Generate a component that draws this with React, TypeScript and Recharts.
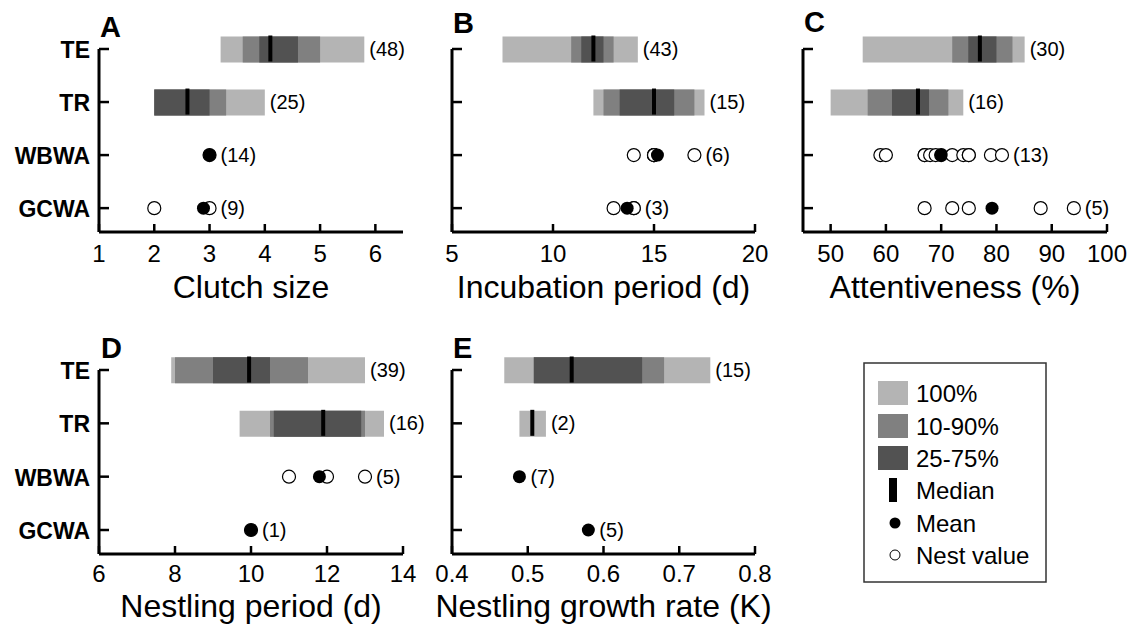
import React from 'react';
import { ComposedChart, Bar, Scatter, XAxis, YAxis } from 'recharts';

// rows from top (0) to bottom (3)
const rowNames = ['TE', 'TR', 'WBWA', 'GCWA'];
const rowTicks = [0, 1, 2, 3];

const LIGHT = '#b4b4b4';
const MID = '#808080';
const DARK = '#525252';

// A - clutch size (bars: TE, TR; points: WBWA, GCWA)
const clutchTicks = [1, 2, 3, 4, 5, 6];
const clutchFull = [[3.2, 5.8], [2.0, 4.0]];
const clutchP10 = [[3.6, 5.0], [2.0, 3.3]];
const clutchP25 = [[3.9, 4.6], [2.0, 3.0]];
const clutchMedian = [4.1, 2.6];
const clutchMean = [3.0, 2.89];
const clutchNests = [[3], [2, 3]];
const clutchN = [48, 25, 14, 9];

// B - incubation period
const incubTicks = [5, 10, 15, 20];
const incubFull = [[7.5, 14.2], [12.0, 17.5]];
const incubP10 = [[10.9, 13.0], [12.5, 17.0]];
const incubP25 = [[11.4, 12.5], [13.3, 16.0]];
const incubMedian = [12.0, 15.0];
const incubMean = [15.17, 13.67];
const incubNests = [[14, 15, 15, 15, 15, 17], [13, 14, 14]];
const incubN = [43, 15, 6, 3];

// C - attentiveness
const attTicks = [50, 60, 70, 80, 90, 100];
const attFull = [[55.8, 85.1], [50.0, 74.0]];
const attP10 = [[72.0, 82.9], [56.7, 71.3]];
const attP25 = [[74.9, 80.0], [61.1, 67.8]];
const attMedian = [77.0, 65.8];
const attMean = [70.0, 79.2];
const attNests = [
  [59, 60, 67, 67, 68, 69, 70, 72, 74, 75, 75, 79, 81],
  [67, 72, 75, 88, 94],
];
const attN = [30, 16, 13, 5];

// D - nestling period
const nestlTicks = [6, 8, 10, 12, 14];
const nestlFull = [[7.9, 13.0], [9.7, 13.5]];
const nestlP10 = [[8.0, 11.5], [10.5, 13.0]];
const nestlP25 = [[9.0, 10.5], [10.6, 12.9]];
const nestlMedian = [9.95, 11.9];
const nestlMean = [11.8, 10.0];
const nestlNests = [[11, 12, 13], [10]];
const nestlN = [39, 16, 5, 1];

// E - nestling growth rate
const growthTicks = [0.4, 0.5, 0.6, 0.7, 0.8];
const growthFull = [[0.469, 0.741], [0.489, 0.524]];
const growthP10 = [[0.508, 0.68], null];
const growthP25 = [[0.508, 0.651], null];
const growthMedian = [0.558, 0.506];
const growthMean = [0.489, 0.58];
const growthNests: number[][] = [[], []];
const growthN = [15, 2, 7, 5];

function makeRows(full, p10, p25, median, mean, nests, n) {
  return [0, 1, 2, 3].map((row) => {
    const r: any = { row, count: `(${n[row]})` };
    if (row < 2) {
      r.full = full[row];
      if (p10[row]) r.p10 = p10[row];
      if (p25[row]) r.p25 = p25[row];
      r.median = median[row];
      r.labelAt = full[row][1];
      r.hasBar = true;
    } else {
      const j = row - 2;
      r.mean = mean[j];
      nests[j].forEach((v, k) => {
        r['nest' + k] = v;
      });
      r.labelAt = Math.max(mean[j], ...nests[j]);
      r.hasBar = false;
    }
    return r;
  });
}

const ok = (v) => typeof v === 'number' && !isNaN(v);

const NestDot = (p) =>
  ok(p.cx) && ok(p.cy) ? <circle cx={p.cx} cy={p.cy} r={6.5} fill="#fff" stroke="#000" strokeWidth={1.2} /> : null;
const MeanDot = (p) =>
  ok(p.cx) && ok(p.cy) ? <circle cx={p.cx} cy={p.cy} r={6.5} fill="#000" /> : null;
const MedianMark = (p) =>
  ok(p.cx) && ok(p.cy) ? <rect x={p.cx - 2} y={p.cy - 13.5} width={4} height={26} fill="#000" /> : null;
const CountLabel = (p) =>
  ok(p.cx) && ok(p.cy) ? (
    <text x={p.cx + (p.payload.hasBar ? 5 : 11)} y={p.cy + 7} fontSize={20} fill="#000">
      {p.payload.count}
    </text>
  ) : null;

const XTick = (p) => (
  <g>
    <line x1={p.x} x2={p.x} y1={p.y} y2={p.y - 8} stroke="#000" strokeWidth={2.5} />
    <text x={p.x} y={p.y + p.dy} textAnchor="middle" fontSize={24} fill="#000">
      {p.payload.value}
    </text>
  </g>
);

const YTick = (p) => (
  <g>
    <line x1={p.x} x2={p.x + 10} y1={p.y} y2={p.y} stroke="#000" strokeWidth={2.5} />
    {p.showNames && (
      <text x={p.x - 9} y={p.y + 9} textAnchor="end" fontSize={23} fontWeight="bold" fill="#000">
        {rowNames[p.payload.value]}
      </text>
    )}
  </g>
);

function Panel({ rows, domain, ticks, title, titleOffset, tickDy, showNames, left, top, width, height, margin }) {
  const slots = Array.from({ length: 13 }, (_, k) => k).filter((k) => rows.some((r) => r['nest' + k] != null));
  return (
    <div style={{ position: 'absolute', left, top, width, height }}>
      <ComposedChart layout="vertical" width={width} height={height} data={rows} margin={margin} barGap={-26}>
        <XAxis
          type="number"
          domain={domain}
          ticks={ticks}
          interval={0}
          height={1}
          tickSize={0}
          tickMargin={0}
          tickLine={false}
          axisLine={{ stroke: '#000', strokeWidth: 3 }}
          tick={(p) => <XTick {...p} dy={tickDy} />}
          label={{ value: title, position: 'bottom', offset: titleOffset, fontSize: 32, fill: '#000' }}
        />
        <YAxis
          type="number"
          dataKey="row"
          domain={[0, 3.45]}
          ticks={rowTicks}
          interval={0}
          width={1}
          tickSize={0}
          tickMargin={0}
          tickLine={false}
          axisLine={{ stroke: '#000', strokeWidth: 3 }}
          tick={(p) => <YTick {...p} showNames={showNames} />}
        />
        <Bar dataKey="full" fill={LIGHT} barSize={26} isAnimationActive={false} />
        <Bar dataKey="p10" fill={MID} barSize={26} isAnimationActive={false} />
        <Bar dataKey="p25" fill={DARK} barSize={26} isAnimationActive={false} />
        <Scatter dataKey="median" shape={MedianMark} isAnimationActive={false} />
        {slots.map((k) => (
          <Scatter key={k} dataKey={'nest' + k} shape={NestDot} isAnimationActive={false} />
        ))}
        <Scatter dataKey="mean" shape={MeanDot} isAnimationActive={false} />
        <Scatter dataKey="labelAt" shape={CountLabel} isAnimationActive={false} />
      </ComposedChart>
    </div>
  );
}

const legendItems = ['100%', '10-90%', '25-75%', 'Median', 'Mean', 'Nest value'];
const legendRowsY = [393, 426, 458, 490, 523, 555];

export default function App() {
  const topMargin = { top: 49, bottom: 77 };
  const botMargin = { top: 60, bottom: 70 };
  return (
    <div
      style={{
        position: 'absolute',
        left: 0,
        top: 0,
        width: 1135,
        height: 625,
        background: '#fff',
        overflow: 'hidden',
        fontFamily: '"Liberation Sans", Arial, sans-serif',
      }}
    >
      <Panel
        rows={makeRows(clutchFull, clutchP10, clutchP25, clutchMedian, clutchMean, clutchNests, clutchN)}
        domain={[1, 6.5]}
        ticks={clutchTicks}
        title="Clutch size"
        titleOffset={42}
        tickDy={30}
        showNames
        left={0}
        top={0}
        width={440}
        height={310}
        margin={{ ...topMargin, left: 98, right: 37 }}
      />
      <Panel
        rows={makeRows(incubFull, incubP10, incubP25, incubMedian, incubMean, incubNests, incubN)}
        domain={[5, 20]}
        ticks={incubTicks}
        title="Incubation period (d)"
        titleOffset={42}
        tickDy={30}
        showNames={false}
        left={420}
        top={0}
        width={365}
        height={310}
        margin={{ ...topMargin, left: 31, right: 30 }}
      />
      <Panel
        rows={makeRows(attFull, attP10, attP25, attMedian, attMean, attNests, attN)}
        domain={[45, 100]}
        ticks={attTicks}
        title="Attentiveness (%)"
        titleOffset={42}
        tickDy={30}
        showNames={false}
        left={785}
        top={0}
        width={350}
        height={310}
        margin={{ ...topMargin, left: 17, right: 28 }}
      />
      <Panel
        rows={makeRows(nestlFull, nestlP10, nestlP25, nestlMedian, nestlMean, nestlNests, nestlN)}
        domain={[6, 14]}
        ticks={nestlTicks}
        title="Nestling period (d)"
        titleOffset={39}
        tickDy={28}
        showNames
        left={0}
        top={310}
        width={440}
        height={315}
        margin={{ ...botMargin, left: 98, right: 37 }}
      />
      <Panel
        rows={makeRows(growthFull, growthP10, growthP25, growthMedian, growthMean, growthNests, growthN)}
        domain={[0.4, 0.8]}
        ticks={growthTicks}
        title="Nestling growth rate (K)"
        titleOffset={39}
        tickDy={28}
        showNames={false}
        left={420}
        top={310}
        width={365}
        height={315}
        margin={{ ...botMargin, left: 31, right: 30 }}
      />
      <svg
        width={1135}
        height={625}
        style={{ position: 'absolute', left: 0, top: 0, pointerEvents: 'none' }}
      >
        <g fontSize={29} fontWeight="bold" fill="#000">
          <text x={100} y={37}>A</text>
          <text x={453} y={33}>B</text>
          <text x={804} y={32}>C</text>
          <text x={101} y={358}>D</text>
          <text x={453} y={358}>E</text>
        </g>
        <rect x={864} y={363} width={182} height={219} fill="none" stroke="#333" strokeWidth={1.5} />
        <rect x={878} y={legendRowsY[0] - 12} width={30} height={24} fill={LIGHT} />
        <rect x={878} y={legendRowsY[1] - 12} width={30} height={24} fill={MID} />
        <rect x={878} y={legendRowsY[2] - 12} width={30} height={24} fill={DARK} />
        <rect x={889} y={legendRowsY[3] - 12} width={8} height={24} fill="#000" />
        <circle cx={895} cy={legendRowsY[4]} r={5.5} fill="#000" />
        <circle cx={895} cy={legendRowsY[5]} r={5} fill="#fff" stroke="#000" strokeWidth={1} />
        {legendItems.map((t, i) => (
          <text key={t} x={916} y={legendRowsY[i] + 9} fontSize={24} fill="#000">
            {t}
          </text>
        ))}
      </svg>
    </div>
  );
}
